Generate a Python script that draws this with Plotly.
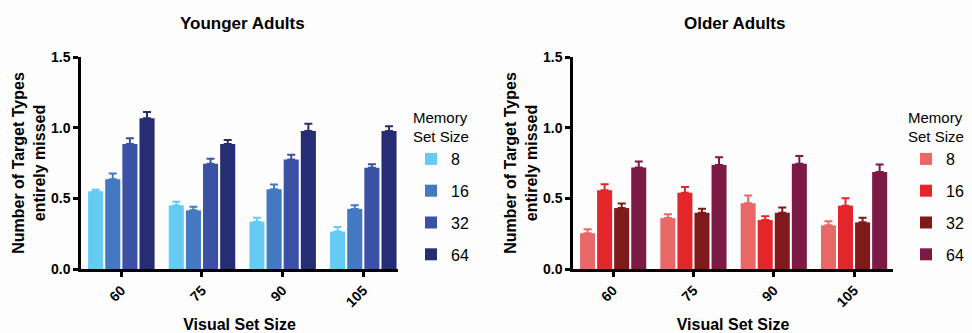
import plotly.graph_objects as go

categories = ["60", "75", "90", "105"]
memory_sizes = ["8", "16", "32", "64"]

young_8 = [0.55, 0.45, 0.335, 0.265]
young_16 = [0.635, 0.415, 0.565, 0.425]
young_32 = [0.885, 0.745, 0.775, 0.717]
young_64 = [1.066, 0.885, 0.977, 0.977]
young_err_8 = [0.01, 0.025, 0.028, 0.033]
young_err_16 = [0.04, 0.025, 0.033, 0.026]
young_err_32 = [0.04, 0.035, 0.033, 0.024]
young_err_64 = [0.045, 0.028, 0.05, 0.033]

old_8 = [0.253, 0.36, 0.466, 0.309]
old_16 = [0.557, 0.539, 0.346, 0.448]
old_32 = [0.431, 0.398, 0.398, 0.33]
old_64 = [0.719, 0.736, 0.745, 0.687]
old_err_8 = [0.028, 0.028, 0.054, 0.028]
old_err_16 = [0.042, 0.042, 0.028, 0.052]
old_err_32 = [0.033, 0.028, 0.038, 0.033]
old_err_64 = [0.042, 0.054, 0.055, 0.053]

young_colors = ["#66CBF2", "#4478C0", "#3B51A4", "#262D73"]
old_colors = ["#E86868", "#E2262A", "#7F1A1A", "#7B1A45"]

young_vals = [young_8, young_16, young_32, young_64]
young_errs = [young_err_8, young_err_16, young_err_32, young_err_64]
old_vals = [old_8, old_16, old_32, old_64]
old_errs = [old_err_8, old_err_16, old_err_32, old_err_64]

FONT = "Liberation Sans, Arial, sans-serif"
W, H = 972, 333
T, B = 57, 64
PH = H - T - B


def py(px):
    """paper y for a pixel row measured from the top"""
    return 1 - (px - T) / PH


fig = go.Figure()

for i, m in enumerate(memory_sizes):
    fig.add_trace(go.Bar(
        x=categories, y=young_vals[i], name=m, marker_color=young_colors[i],
        marker_line_width=0,
        error_y=dict(type="data", array=young_errs[i], arrayminus=[0] * 4, symmetric=False,
                     color=young_colors[i], thickness=2, width=4),
        xaxis="x", yaxis="y", legend="legend", legendgroup="y" + m,
    ))
for i, m in enumerate(memory_sizes):
    fig.add_trace(go.Bar(
        x=categories, y=old_vals[i], name=m, marker_color=old_colors[i],
        marker_line_width=0,
        error_y=dict(type="data", array=old_errs[i], arrayminus=[0] * 4, symmetric=False,
                     color=old_colors[i], thickness=2, width=4),
        xaxis="x2", yaxis="y2", legend="legend2", legendgroup="o" + m,
    ))

ytitle = "Number of Target Types<br>entirely missed"
axis_common = dict(showline=True, linecolor="black", linewidth=2.5, ticks="outside",
                   ticklen=5, tickwidth=2.5, tickcolor="black", showgrid=False, zeroline=False,
                   automargin=False,
                   tickfont=dict(family=FONT, size=14, color="black", weight="bold"))

xt = dict(text="Visual Set Size", font=dict(family=FONT, size=16, color="black", weight="bold"), standoff=22)
yl = dict(axis_common, range=[0, 1.5], tickvals=[0, 0.5, 1.0, 1.5], tickformat=".1f",
          title=dict(text=ytitle, font=dict(family=FONT, size=16, color="black", weight="bold"), standoff=2))

legend_common = dict(y=py(103), xanchor="left", yanchor="top",
                     title=dict(text="Memory<br>Set Size", font=dict(family=FONT, size=15, color="black")),
                     font=dict(family=FONT, size=16, color="black"), tracegroupgap=8,
                     bgcolor="rgba(0,0,0,0)")

fig.update_layout(
    width=W, height=H,
    margin=dict(l=0, r=0, t=T, b=B),
    paper_bgcolor="#FDFDFE", plot_bgcolor="#FDFDFE",
    barmode="group", bargap=0.15, bargroupgap=0.12,
    xaxis=dict(axis_common, tickangle=-45, range=[-0.5, 3.43], title=xt,
               domain=[81 / W, 398 / W], anchor="y"),
    yaxis=dict(yl, anchor="x"),
    xaxis2=dict(axis_common, tickangle=-45, range=[-0.5, 3.485], title=xt,
                domain=[573 / W, 893 / W], anchor="y2"),
    yaxis2=dict(yl, anchor="x2"),
    legend=dict(legend_common, x=411 / W),
    legend2=dict(legend_common, x=906 / W),
    annotations=[
        dict(text="Younger Adults", x=242 / W, y=py(24), xref="paper", yref="paper",
             xanchor="center", yanchor="middle", showarrow=False,
             font=dict(family=FONT, size=17, color="black", weight="bold")),
        dict(text="Older Adults", x=734 / W, y=py(24), xref="paper", yref="paper",
             xanchor="center", yanchor="middle", showarrow=False,
             font=dict(family=FONT, size=17, color="black", weight="bold")),
    ],
)

fig.write_html("out.html", config={"displayModeBar": False},
               post_script="document.body.style.margin='0';document.body.style.overflow='hidden';")
